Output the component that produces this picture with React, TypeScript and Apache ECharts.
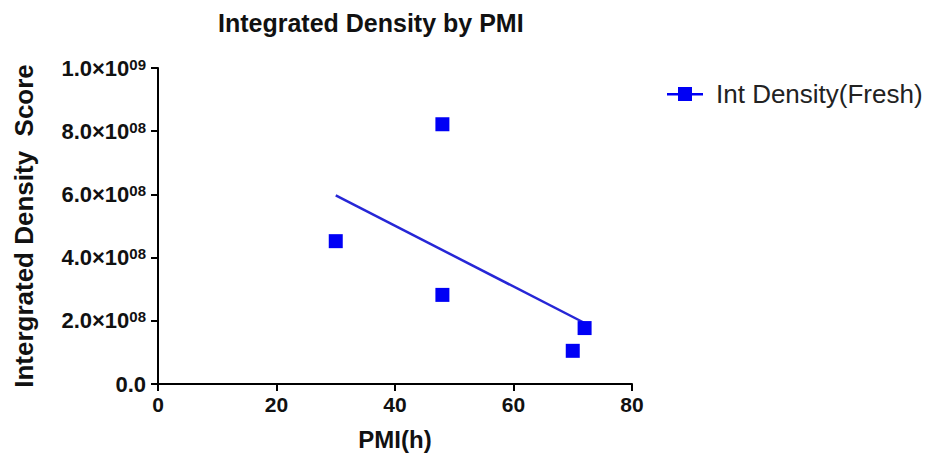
import React, { useEffect, useRef } from "react";
import * as echarts from "echarts";

const titleText = "Integrated Density by PMI";
const seriesName = "Int Density(Fresh)";
const xAxisName = "PMI(h)";
const yAxisName = "Intergrated Density  Score";
const xTicks = [0, 20, 40, 60, 80];
const pmiHours = [30, 48, 48, 72, 70];
const densityValues = [4.52e8, 8.22e8, 2.82e8, 1.77e8, 1.05e8];
const fitLineX = [30, 72];
const fitLineY = [5.97e8, 1.93e8];

const FONT = "'Liberation Sans', Arial, Helvetica, sans-serif";

function formatY(v: number): string {
  if (v === 0) return "{a|0.0}";
  const exp = Math.floor(Math.log10(v) + 1e-9);
  const mant = v / Math.pow(10, exp);
  const e = exp < 10 ? "0" + exp : String(exp);
  return "{a|" + mant.toFixed(1) + "×10}{b|" + e + "}";
}

export default function App() {
  const ref = useRef<HTMLDivElement>(null);
  useEffect(() => {
    document.body.style.margin = "0";
    if (!ref.current) return;
    const chart = echarts.init(ref.current, undefined, { renderer: "svg" });
    const scatterData = pmiHours.map((x, i) => [x, densityValues[i]]);
    const lineData = fitLineX.map((x, i) => [x, fitLineY[i]]);
    chart.setOption({
      animation: false,
      backgroundColor: "#ffffff",
      textStyle: { fontFamily: FONT },
      title: {
        text: titleText,
        left: 213,
        top: 5,
        textStyle: { fontFamily: FONT, fontSize: 25, fontWeight: "bold", color: "#111111" },
      },
      legend: {
        data: [seriesName],
        left: 662,
        top: 76,
        itemWidth: 36,
        itemHeight: 14,
        itemGap: 10,
        icon: "path://M0,6 L11,6 L11,0 L25,0 L25,6 L36,6 L36,8.5 L25,8.5 L25,14 L11,14 L11,8.5 L0,8.5 Z",
        textStyle: { fontFamily: FONT, fontSize: 26, color: "#222222", padding: [0, 0, 0, 8] },
      },
      grid: { left: 158, right: 301, top: 68, bottom: 80, containLabel: false },
      xAxis: {
        type: "value",
        min: 0,
        max: 80,
        interval: 20,
        name: xAxisName,
        nameLocation: "middle",
        nameGap: 43,
        nameTextStyle: { fontFamily: FONT, fontSize: 24, fontWeight: "bold", color: "#111111" },
        axisLine: { show: true, onZero: false, lineStyle: { color: "#000000", width: 2 } },
        axisTick: { show: true, length: 7, lineStyle: { color: "#000000", width: 2 } },
        axisLabel: {
          fontFamily: FONT,
          fontSize: 21,
          fontWeight: "bold",
          color: "#111111",
          margin: 10,
          formatter: (v: number) => (xTicks.indexOf(v) >= 0 ? String(v) : ""),
        },
        splitLine: { show: false },
      },
      yAxis: {
        type: "value",
        min: 0,
        max: 1e9,
        interval: 2e8,
        name: yAxisName,
        nameLocation: "middle",
        nameGap: 121,
        nameTextStyle: { fontFamily: FONT, fontSize: 26, fontWeight: "bold", color: "#111111" },
        axisLine: { show: true, lineStyle: { color: "#000000", width: 2 } },
        axisTick: { show: true, length: 7, lineStyle: { color: "#000000", width: 2 } },
        axisLabel: {
          margin: 12,
          formatter: formatY,
          rich: {
            a: { fontFamily: FONT, fontSize: 22, fontWeight: "bold", color: "#111111", lineHeight: 23 },
            b: { fontFamily: FONT, fontSize: 15, fontWeight: "bold", color: "#111111", verticalAlign: "top", lineHeight: 15 },
          },
        },
        splitLine: { show: false },
      },
      series: [
        {
          name: "fit",
          type: "line",
          data: lineData,
          showSymbol: false,
          symbol: "none",
          lineStyle: { color: "#2626d6", width: 2.5 },
          silent: true,
          z: 1,
        },
        {
          name: seriesName,
          type: "scatter",
          data: scatterData,
          symbol: "rect",
          symbolSize: 14,
          itemStyle: { color: "#0000f5", opacity: 1 },
          z: 2,
        },
      ],
    });
    return () => chart.dispose();
  }, []);
  return <div ref={ref} style={{ width: 933, height: 464 }} />;
}
